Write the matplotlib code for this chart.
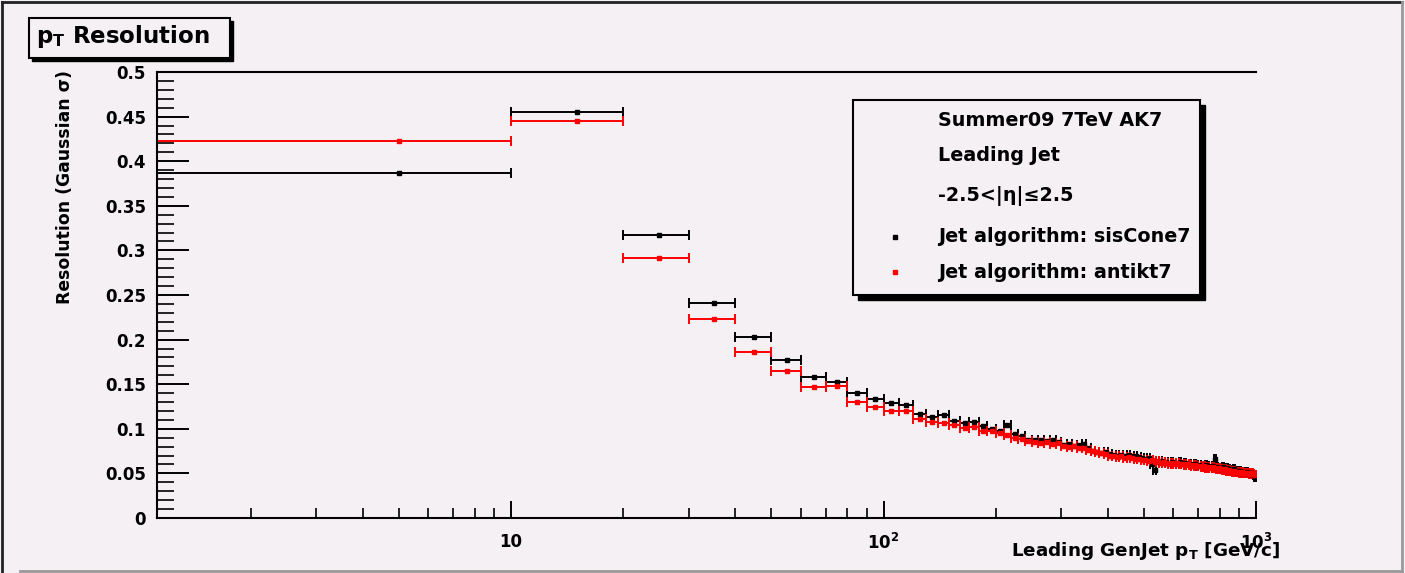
import numpy as np
import matplotlib.pyplot as plt
from matplotlib.patches import Rectangle
from matplotlib.lines import Line2D
from matplotlib.ticker import FixedLocator, NullFormatter, MultipleLocator

plt.rcParams['font.family'] = ['DejaVu Sans']
plt.rcParams['font.weight'] = 'bold'
plt.rcParams['mathtext.fontset'] = 'custom'
plt.rcParams['mathtext.rm'] = 'DejaVu Sans:bold'
plt.rcParams['mathtext.bf'] = 'DejaVu Sans:bold'
plt.rcParams['mathtext.it'] = 'DejaVu Sans:bold'

# bins of 10 GeV from 0 to 1000
bin_lo = np.arange(0, 1000, 10)
bin_hi = bin_lo + 10
pt = (bin_lo + bin_hi) / 2.0

# sisCone7 (black)
res_siscone = [
    0.387, 0.455, 0.317, 0.241, 0.203, 0.177, 0.158, 0.152, 0.140, 0.133,
    0.129, 0.127, 0.117, 0.113, 0.115, 0.109, 0.107, 0.108, 0.103, 0.100,
    0.098, 0.104, 0.094, 0.092, 0.088, 0.087, 0.088, 0.086, 0.087, 0.085,
    0.082, 0.083, 0.081, 0.082, 0.083, 0.078, 0.075, 0.074, 0.073, 0.074,
    0.072, 0.071, 0.070, 0.071, 0.070, 0.071, 0.069, 0.070, 0.068, 0.067,
    0.066, 0.067, 0.061, 0.054, 0.063, 0.064, 0.062, 0.063, 0.061, 0.063,
    0.062, 0.060, 0.063, 0.061, 0.062, 0.060, 0.061, 0.059, 0.060, 0.058,
    0.059, 0.058, 0.057, 0.059, 0.058, 0.057, 0.058, 0.066, 0.057, 0.056,
    0.055, 0.057, 0.054, 0.056, 0.055, 0.053, 0.054, 0.055, 0.052, 0.053,
    0.053, 0.051, 0.052, 0.050, 0.052, 0.051, 0.049, 0.050, 0.048, 0.046,
]

# antikt7 (red)
res_antikt = [
    0.423, 0.445, 0.292, 0.223, 0.186, 0.165, 0.147, 0.148, 0.130, 0.125,
    0.120, 0.120, 0.111, 0.108, 0.106, 0.104, 0.101, 0.102, 0.098, 0.097,
    0.095, 0.093, 0.090, 0.089, 0.086, 0.085, 0.084, 0.085, 0.083, 0.084,
    0.081, 0.080, 0.081, 0.079, 0.078, 0.076, 0.075, 0.074, 0.073, 0.072,
    0.070, 0.069, 0.068, 0.069, 0.067, 0.068, 0.067, 0.066, 0.066, 0.065,
    0.065, 0.064, 0.065, 0.063, 0.064, 0.062, 0.063, 0.062, 0.061, 0.062,
    0.061, 0.062, 0.060, 0.061, 0.059, 0.060, 0.059, 0.058, 0.059, 0.058,
    0.058, 0.057, 0.058, 0.056, 0.057, 0.056, 0.057, 0.056, 0.055, 0.056,
    0.055, 0.054, 0.055, 0.053, 0.054, 0.053, 0.052, 0.053, 0.052, 0.052,
    0.051, 0.052, 0.051, 0.050, 0.051, 0.050, 0.049, 0.050, 0.049, 0.048,
]

bg = '#f4f0f4'
W, H = 1405, 573

def fx(px):
    return px / W

def fy(py):
    return 1 - py / H

fig = plt.figure(figsize=(14.05, 5.73), dpi=100, facecolor=bg)
ax = fig.add_axes([fx(157), fy(518), fx(1256) - fx(157), fy(72) - fy(518)])
ax.set_facecolor(bg)

xerr = [pt - np.maximum(bin_lo, 1.12), bin_hi - pt]
ax.errorbar(pt, res_siscone, xerr=xerr, fmt='s', color='black', ms=2.5,
            elinewidth=1.4, capsize=3.6, capthick=1.4)
ax.errorbar(pt, res_antikt, xerr=xerr, fmt='s', color='red', ms=2.5,
            elinewidth=1.4, capsize=3.6, capthick=1.4)

ax.set_xscale('log')
ax.set_xlim(1.12, 1000)
ax.set_ylim(0, 0.5)

ax.spines['right'].set_visible(False)
for s in ['left', 'bottom', 'top']:
    ax.spines[s].set_linewidth(1.5)

yt = np.arange(0, 0.501, 0.05)
ax.set_yticks(yt)
ax.set_yticklabels(['0', '0.05', '0.1', '0.15', '0.2', '0.25', '0.3', '0.35',
                    '0.4', '0.45', '0.5'])
ax.yaxis.set_minor_locator(MultipleLocator(0.01))
ax.tick_params(axis='y', which='major', direction='in', length=23, width=1.4,
               labelsize=12, pad=8, right=False)
ax.tick_params(axis='y', which='minor', direction='in', length=12, width=1.2,
               right=False)

ax.xaxis.set_major_locator(FixedLocator([10, 100, 1000]))
ax.set_xticklabels(['10', r'$10^{2}$', r'$10^{3}$'])
minors = [m * d for d in [1, 10, 100] for m in range(2, 10)]
ax.xaxis.set_minor_locator(FixedLocator(minors))
ax.xaxis.set_minor_formatter(NullFormatter())
ax.tick_params(axis='x', which='major', direction='in', length=12, width=1.4,
               labelsize=12, pad=11, top=False)
ax.tick_params(axis='x', which='minor', direction='in', length=7, width=1.2,
               top=False)

# axis titles
fig.text(fx(1280), fy(551), r'Leading GenJet p$_{T}$ [GeV/c]', ha='right',
         va='center', fontsize=13.2, fontweight='bold')
fig.text(fx(65), fy(70), 'Resolution (Gaussian σ)', rotation=90,
         ha='center', va='top', fontsize=12.4, fontweight='bold')

# title box with shadow
fig.patches.append(Rectangle((fx(32), fy(61)), fx(230) - fx(29), fy(18) - fy(58),
                             transform=fig.transFigure, facecolor='black',
                             edgecolor='black', zorder=1))
fig.patches.append(Rectangle((fx(29), fy(58)), fx(230) - fx(29), fy(18) - fy(58),
                             transform=fig.transFigure, facecolor=bg,
                             edgecolor='black', linewidth=1.5, zorder=2))
fig.text(fx(36), fy(36), r'p$_{T}$ Resolution', ha='left', va='center',
         fontsize=16.5, fontweight='bold', zorder=3)

# legend box with shadow
fig.patches.append(Rectangle((fx(858), fy(300)), fx(1200) - fx(853), fy(100) - fy(295),
                             transform=fig.transFigure, facecolor='black',
                             edgecolor='black', zorder=1))
fig.patches.append(Rectangle((fx(853), fy(295)), fx(1200) - fx(853), fy(100) - fy(295),
                             transform=fig.transFigure, facecolor=bg,
                             edgecolor='black', linewidth=1.5, zorder=2))
leg_lines = ['Summer09 7TeV AK7', 'Leading Jet', '-2.5<|η|≤2.5',
             'Jet algorithm: sisCone7', 'Jet algorithm: antikt7']
leg_y = [121, 155, 196, 237, 272]
for txt, yy in zip(leg_lines, leg_y):
    fig.text(fx(938), fy(yy), txt, ha='left', va='center', fontsize=13.8,
             fontweight='bold', zorder=3)
for col, yy in zip(['black', 'red'], leg_y[3:]):
    fig.add_artist(Line2D([fx(895)], [fy(yy)], marker='s', ms=2.5, color=col,
                          linestyle='none', transform=fig.transFigure, zorder=3))

# canvas border
fig.add_artist(Line2D([fx(2), fx(2)], [fy(2), fy(573)], color='#222222', lw=2,
                      transform=fig.transFigure))
fig.add_artist(Line2D([fx(2), fx(1402)], [fy(2), fy(2)], color='#222222', lw=2,
                      transform=fig.transFigure))
fig.add_artist(Line2D([fx(20), fx(1402)], [fy(571), fy(571)], color='#999999', lw=2,
                      transform=fig.transFigure))
fig.add_artist(Line2D([fx(1402), fx(1402)], [fy(2), fy(571)], color='#999999', lw=2,
                      transform=fig.transFigure))

fig.savefig('out.png', dpi=100, facecolor=bg)
